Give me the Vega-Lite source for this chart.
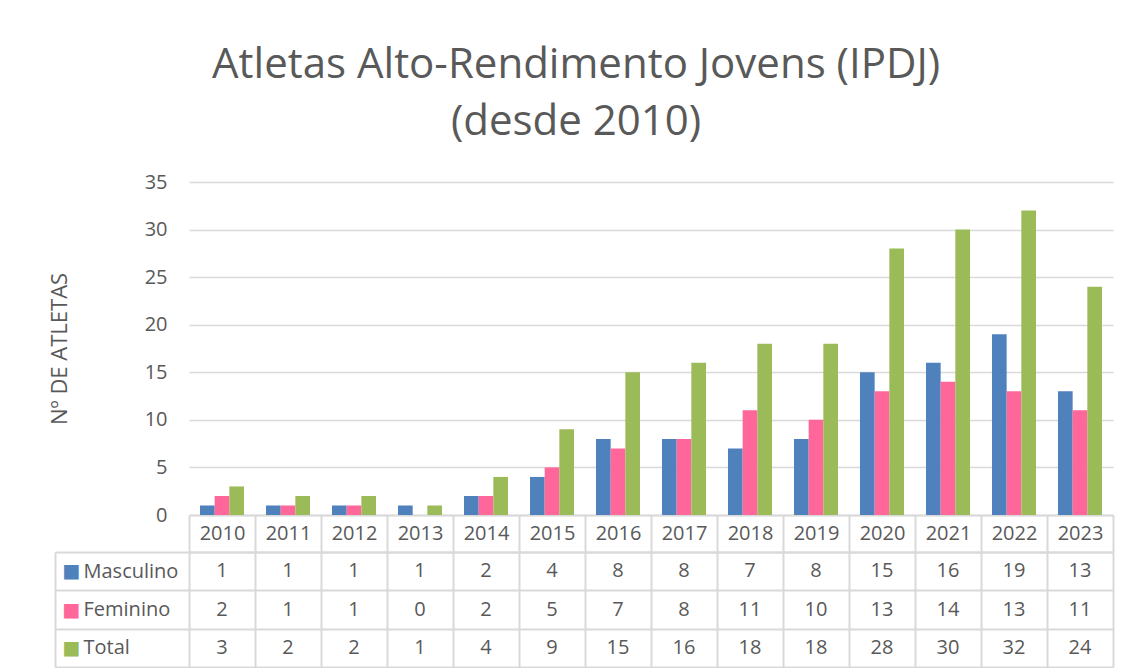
{
  "$schema": "https://vega.github.io/schema/vega-lite/v6.json",
  "background": "white",
  "padding": {"left": 48, "top": 44, "right": 18, "bottom": 0},
  "title": {
    "text": ["Atletas Alto-Rendimento Jovens (IPDJ)", "(desde 2010)"],
    "font": "Open Sans",
    "fontSize": 42,
    "fontWeight": "normal",
    "color": "#595959",
    "lineHeight": 57,
    "anchor": "middle",
    "dx": -5,
    "offset": 28
  },
  "config": {
    "font": "Open Sans",
    "view": {"stroke": null},
    "axis": {"labelColor": "#595959", "labelFontSize": 20, "titleColor": "#595959"}
  },
  "data": {
    "values": [
      {"ano": "2010", "serie": "Masculino", "valor": 1},
      {"ano": "2011", "serie": "Masculino", "valor": 1},
      {"ano": "2012", "serie": "Masculino", "valor": 1},
      {"ano": "2013", "serie": "Masculino", "valor": 1},
      {"ano": "2014", "serie": "Masculino", "valor": 2},
      {"ano": "2015", "serie": "Masculino", "valor": 4},
      {"ano": "2016", "serie": "Masculino", "valor": 8},
      {"ano": "2017", "serie": "Masculino", "valor": 8},
      {"ano": "2018", "serie": "Masculino", "valor": 7},
      {"ano": "2019", "serie": "Masculino", "valor": 8},
      {"ano": "2020", "serie": "Masculino", "valor": 15},
      {"ano": "2021", "serie": "Masculino", "valor": 16},
      {"ano": "2022", "serie": "Masculino", "valor": 19},
      {"ano": "2023", "serie": "Masculino", "valor": 13},
      {"ano": "2010", "serie": "Feminino", "valor": 2},
      {"ano": "2011", "serie": "Feminino", "valor": 1},
      {"ano": "2012", "serie": "Feminino", "valor": 1},
      {"ano": "2013", "serie": "Feminino", "valor": 0},
      {"ano": "2014", "serie": "Feminino", "valor": 2},
      {"ano": "2015", "serie": "Feminino", "valor": 5},
      {"ano": "2016", "serie": "Feminino", "valor": 7},
      {"ano": "2017", "serie": "Feminino", "valor": 8},
      {"ano": "2018", "serie": "Feminino", "valor": 11},
      {"ano": "2019", "serie": "Feminino", "valor": 10},
      {"ano": "2020", "serie": "Feminino", "valor": 13},
      {"ano": "2021", "serie": "Feminino", "valor": 14},
      {"ano": "2022", "serie": "Feminino", "valor": 13},
      {"ano": "2023", "serie": "Feminino", "valor": 11},
      {"ano": "2010", "serie": "Total", "valor": 3},
      {"ano": "2011", "serie": "Total", "valor": 2},
      {"ano": "2012", "serie": "Total", "valor": 2},
      {"ano": "2013", "serie": "Total", "valor": 1},
      {"ano": "2014", "serie": "Total", "valor": 4},
      {"ano": "2015", "serie": "Total", "valor": 9},
      {"ano": "2016", "serie": "Total", "valor": 15},
      {"ano": "2017", "serie": "Total", "valor": 16},
      {"ano": "2018", "serie": "Total", "valor": 18},
      {"ano": "2019", "serie": "Total", "valor": 18},
      {"ano": "2020", "serie": "Total", "valor": 28},
      {"ano": "2021", "serie": "Total", "valor": 30},
      {"ano": "2022", "serie": "Total", "valor": 32},
      {"ano": "2023", "serie": "Total", "valor": 24}
    ]
  },
  "bounds": "flush",
  "spacing": 37,
  "vconcat": [
    {
      "width": 924,
      "height": 333,
      "mark": {"type": "bar"},
      "encoding": {
        "x": {
          "field": "ano", "type": "nominal",
          "scale": {"paddingInner": 0.333, "paddingOuter": 0.1667},
          "axis": {"title": null, "labels": false, "ticks": false, "domainColor": "#d9d9d9", "domainWidth": 2}
        },
        "xOffset": {"field": "serie", "sort": ["Masculino", "Feminino", "Total"], "scale": {"paddingInner": 0}},
        "y": {
          "field": "valor", "type": "quantitative",
          "scale": {"domain": [0, 35], "nice": false},
          "axis": {
            "values": [0, 5, 10, 15, 20, 25, 30, 35],
            "title": "Nº DE ATLETAS",
            "titleFontSize": 22,
            "titleFontWeight": "normal",
            "titlePadding": 73,
            "domain": false,
            "ticks": false,
            "labelPadding": 22,
            "gridColor": "#d9d9d9",
            "gridWidth": 1.5
          }
        },
        "color": {
          "field": "serie", "type": "nominal",
          "scale": {"domain": ["Masculino", "Feminino", "Total"], "range": ["#4f81bd", "#ff6699", "#9bbb59"]},
          "legend": null
        }
      }
    },
    {
      "width": 924,
      "height": 115,
      "resolve": {"axis": {"y": "independent"}},
      "layer": [
        {
          "mark": {"type": "text", "fontSize": 20, "color": "#595959", "baseline": "middle", "align": "center"},
          "encoding": {
            "x": {
              "field": "ano", "type": "nominal",
              "scale": {"paddingInner": 0, "paddingOuter": 0},
              "axis": {
                "orient": "top", "title": null,
                "grid": true, "gridColor": "#d9d9d9", "gridWidth": 2,
                "tickBand": "extent", "ticks": true, "tickSize": 37, "tickColor": "#d9d9d9", "tickWidth": 2,
                "domain": true, "domainColor": "#d9d9d9", "domainWidth": 2,
                "labelAngle": 0, "labelBaseline": "middle", "labelPadding": -18.5
              }
            },
            "y": {
              "field": "serie", "type": "nominal", "sort": ["Masculino", "Feminino", "Total"],
              "scale": {"paddingInner": 0, "paddingOuter": 0},
              "axis": {
                "title": null,
                "grid": true, "gridColor": "#d9d9d9", "gridWidth": 2,
                "tickBand": "extent", "ticks": true, "tickSize": 134, "tickColor": "#d9d9d9", "tickWidth": 2,
                "domain": false,
                "labelAlign": "left", "labelBaseline": "middle", "labelPadding": -28
              }
            },
            "text": {"field": "valor", "type": "quantitative"}
          }
        },
        {
          "mark": {"type": "text", "text": ""},
          "encoding": {
            "y": {
              "field": "serie", "type": "nominal", "sort": ["Masculino", "Feminino", "Total"],
              "axis": {
                "title": null, "orient": "left", "offset": 134,
                "grid": false, "ticks": false, "tickSize": 0,
                "domain": true, "domainColor": "#d9d9d9", "domainWidth": 2,
                "labelExpr": "'■'", "labelFontSize": 19, "labelFont": "DejaVu Sans",
                "labelAlign": "left", "labelBaseline": "middle", "labelPadding": -7,
                "labelColor": {
                  "condition": [
                    {"test": "datum.value === 'Masculino'", "value": "#4f81bd"},
                    {"test": "datum.value === 'Feminino'", "value": "#ff6699"}
                  ],
                  "value": "#9bbb59"
                }
              }
            }
          }
        }
      ]
    }
  ]
}
